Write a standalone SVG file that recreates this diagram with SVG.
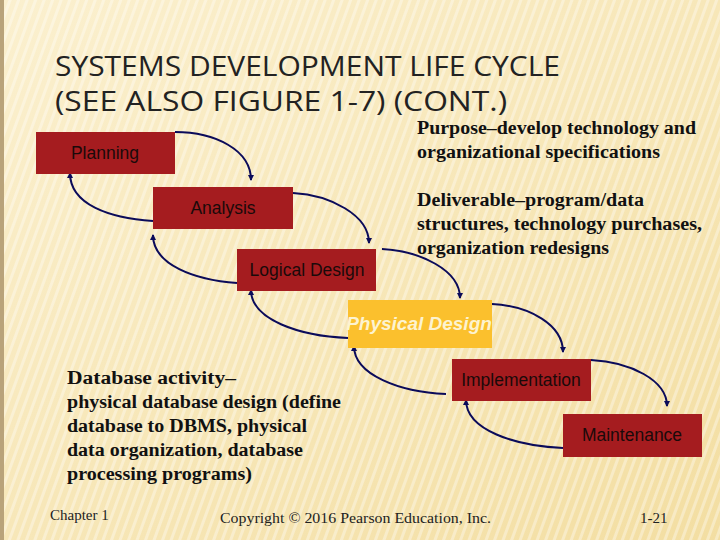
<svg xmlns="http://www.w3.org/2000/svg" width="720" height="540" viewBox="0 0 720 540">
<defs>
<linearGradient id="bg" x1="0" y1="0" x2="1" y2="1"><stop offset="0" stop-color="#fbf0cf"/><stop offset="1" stop-color="#f3dea2"/></linearGradient>
<pattern id="st" width="8" height="8" patternUnits="userSpaceOnUse" patternTransform="rotate(20)"><rect width="3" height="8" fill="#ffffff" opacity="0.35"/></pattern>
<marker id="ah" markerWidth="6" markerHeight="6" refX="5" refY="3" orient="auto" markerUnits="userSpaceOnUse"><path d="M0,0 L6,3 L0,6 z" fill="#0b0b5a"/></marker>
<style>
.box{fill:#a51c1f}
.lbl{font-family:"Liberation Sans",Arial,sans-serif;font-size:17.5px;fill:#1a0a0a;text-anchor:middle}
.arc{fill:none;stroke:#0b0b5a;stroke-width:2;marker-end:url(#ah)}
.ser{font-family:"Liberation Serif","Times New Roman",serif;font-size:18px;font-weight:bold;fill:#111}
.ft{font-family:"Liberation Serif","Times New Roman",serif;font-size:15px;fill:#222}
.ttl{font-family:"Open Sans",sans-serif;font-size:28px;fill:#222}
</style>
</defs>
<rect width="720" height="540" fill="url(#bg)"/>
<rect width="720" height="540" fill="url(#st)"/>
<rect x="0" y="0" width="4" height="540" fill="#b9a37a"/>
<text class="ttl" x="55" y="76" textLength="505" lengthAdjust="spacingAndGlyphs">SYSTEMS DEVELOPMENT LIFE CYCLE</text>
<text class="ttl" x="55" y="111" textLength="452" lengthAdjust="spacingAndGlyphs">(SEE ALSO FIGURE 1-7) (CONT.)</text>
<g id="connectors">
<path class="arc" d="M175,132 C215,132 251,150 251,180"/>
<path class="arc" d="M293,193 C330,195 369,215 369,243"/>
<path class="arc" d="M382,249 C420,251 460,270 460,298"/>
<path class="arc" d="M492,304 C530,306 563,325 563,352"/>
<path class="arc" d="M591,360 C630,362 667,380 667,406"/>
<path class="arc" d="M153,221 C110,218 70,205 70,173"/>
<path class="arc" d="M237,283 C195,280 153,265 153,235"/>
<path class="arc" d="M348,338 C300,336 251,320 251,290"/>
<path class="arc" d="M446,394 C400,392 354,375 354,346"/>
<path class="arc" d="M563,448 C515,446 466,430 466,400"/>
</g>
<g id="planning"><rect class="box" x="36" y="132" width="139" height="42"/><text class="lbl" x="105" y="159">Planning</text></g>
<g id="analysis"><rect class="box" x="153" y="187" width="140" height="42"/><text class="lbl" x="223" y="214">Analysis</text></g>
<g id="logical"><rect class="box" x="237" y="249" width="139" height="42"/><text class="lbl" x="307" y="276">Logical Design</text></g>
<g id="physical"><rect x="348" y="300" width="144" height="48" fill="#fbc02d"/><text x="419" y="330" font-family="'Liberation Sans',Arial,sans-serif" font-size="19" font-style="italic" font-weight="bold" fill="#fdf3d0" text-anchor="middle">Physical Design</text></g>
<g id="implementation"><rect class="box" x="452" y="359" width="139" height="42"/><text class="lbl" x="521" y="386">Implementation</text></g>
<g id="maintenance"><rect class="box" x="563" y="414" width="139" height="43"/><text class="lbl" x="632" y="441">Maintenance</text></g>
<text class="ser" x="417" y="134" textLength="279" lengthAdjust="spacingAndGlyphs">Purpose–develop technology and</text>
<text class="ser" x="417" y="158" textLength="243" lengthAdjust="spacingAndGlyphs">organizational specifications</text>
<text class="ser" x="417" y="206" textLength="227" lengthAdjust="spacingAndGlyphs">Deliverable–program/data</text>
<text class="ser" x="417" y="230" textLength="285" lengthAdjust="spacingAndGlyphs">structures, technology purchases,</text>
<text class="ser" x="417" y="254" textLength="192" lengthAdjust="spacingAndGlyphs">organization redesigns</text>
<text class="ser" x="67" y="384" textLength="169" lengthAdjust="spacingAndGlyphs">Database activity–</text>
<text class="ser" x="67" y="408" textLength="274" lengthAdjust="spacingAndGlyphs">physical database design (define</text>
<text class="ser" x="67" y="432" textLength="240" lengthAdjust="spacingAndGlyphs">database to DBMS, physical</text>
<text class="ser" x="67" y="456" textLength="236" lengthAdjust="spacingAndGlyphs">data organization, database</text>
<text class="ser" x="67" y="480" textLength="185" lengthAdjust="spacingAndGlyphs">processing programs)</text>
<text class="ft" x="50" y="520">Chapter 1</text>
<text class="ft" x="220" y="523" textLength="271" lengthAdjust="spacingAndGlyphs">Copyright © 2016 Pearson Education, Inc.</text>
<text class="ft" x="640" y="523">1-21</text>
</svg>
